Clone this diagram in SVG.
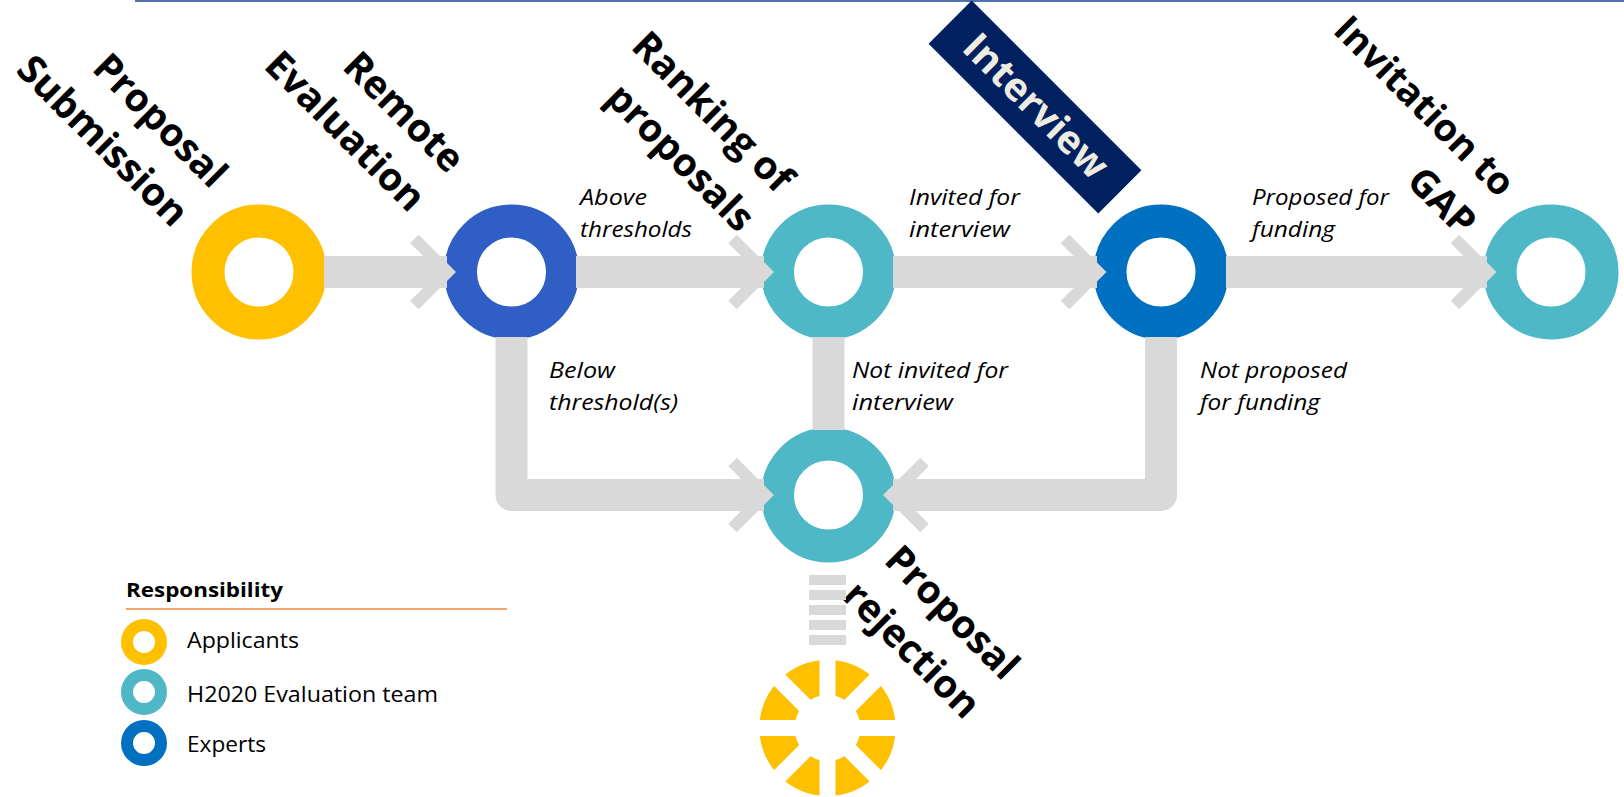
<svg xmlns="http://www.w3.org/2000/svg" width="1624" height="797" viewBox="0 0 1624 797">
<style>
.ring{fill:none;stroke-width:33}
.bar{fill:none;stroke:#D9D9D9;stroke-width:32;stroke-linejoin:round}
.chev{fill:none;stroke:#D9D9D9;stroke-width:12;stroke-linejoin:miter;stroke-miterlimit:4}
.title{font-family:"Open Sans","Noto Sans",sans-serif;font-weight:bold;font-size:39px;fill:#000}
.lbl{font-family:"Open Sans","Noto Sans",sans-serif;font-style:italic;font-size:22px;fill:#000}
.leg{font-family:"Open Sans","Noto Sans",sans-serif;font-size:22px;fill:#000}
.lring{fill:none;stroke-width:12}
</style>
<defs>
<mask id="gaps" maskUnits="userSpaceOnUse" x="740" y="640" width="180" height="180">
<rect x="740" y="640" width="180" height="180" fill="#fff"/>
<g stroke="#000" stroke-width="16">
<line x1="827.5" y1="650" x2="827.5" y2="806"/>
<line x1="749.5" y1="728" x2="905.5" y2="728"/>
<line x1="772.3" y1="672.8" x2="882.7" y2="783.2"/>
<line x1="882.7" y1="672.8" x2="772.3" y2="783.2"/>
</g>
</mask>
</defs>
<rect width="1624" height="797" fill="#fff"/>
<line x1="135" y1="1" x2="1624" y2="1" stroke="#4F74AE" stroke-width="2"/>

<g id="node-submission">
<circle class="ring" cx="259" cy="272" r="51" stroke="#FFC000"/>
<g transform="translate(211,190) rotate(45)"><text class="title" text-anchor="end"><tspan x="0" y="0">Proposal</tspan><tspan x="0" y="55">Submission</tspan></text></g>
</g>
<g id="node-remote-evaluation">
<circle class="ring" cx="511.5" cy="272" r="51" stroke="#2F5EC4"/>
<g transform="translate(448,175) rotate(45)"><text class="title" text-anchor="end"><tspan x="0" y="0">Remote</tspan><tspan x="0" y="55">Evaluation</tspan></text></g>
</g>
<g id="node-ranking">
<circle class="ring" cx="828.5" cy="272" r="51" stroke="#4FB8C6"/>
<g transform="translate(777,195) rotate(45)"><text class="title" text-anchor="end"><tspan x="0" y="0">Ranking of</tspan><tspan x="0" y="55">proposals</tspan></text></g>
</g>
<g id="node-interview">
<circle class="ring" cx="1161" cy="272" r="51" stroke="#0070C0"/>
<g transform="translate(1035,107) rotate(45)">
<rect x="-120" y="-30.5" width="240" height="61" fill="#002060"/>
<text class="title" text-anchor="middle" x="0" y="12" style="fill:#EEECE1">Interview</text>
</g>
</g>
<g id="node-gap">
<circle class="ring" cx="1551" cy="272" r="51" stroke="#4FB8C6"/>
<g transform="translate(1499,199) rotate(45)"><text class="title" text-anchor="end" style="font-size:38px"><tspan x="0" y="0">Invitation to</tspan><tspan x="0" y="55">GAP</tspan></text></g>
</g>
<g id="node-rejection">
<circle class="ring" cx="828.5" cy="495" r="51" stroke="#4FB8C6"/>
<g transform="translate(1003,682) rotate(45)"><text class="title" text-anchor="end"><tspan x="0" y="0">Proposal</tspan><tspan x="0" y="55">rejection</tspan></text></g>
</g>
<g id="node-rejected-end">
<g fill="#D9D9D9">
<rect x="809" y="575" width="37" height="10"/>
<rect x="809" y="590" width="37" height="10"/>
<rect x="809" y="605" width="37" height="10"/>
<rect x="809" y="620" width="37" height="10"/>
<rect x="809" y="635" width="37" height="10"/>
</g>
<circle cx="827.5" cy="728" r="50.5" fill="none" stroke="#FFC000" stroke-width="35" mask="url(#gaps)"/>
</g>

<g id="connectors">
<path class="bar" d="M324 272 H447"/>
<path class="bar" d="M576 272 H764"/>
<path class="bar" d="M893 272 H1097"/>
<path class="bar" d="M1226 272 H1487"/>
<path class="bar" d="M511.5 337 V495 H764"/>
<path class="bar" d="M828.5 337 V430"/>
<path class="bar" d="M1161 337 V495 H893"/>
<path class="chev" d="M414.5 239 L447.5 272 L414.5 305"/>
<path class="chev" d="M732.5 239 L765.5 272 L732.5 305"/>
<path class="chev" d="M1065 239 L1098 272 L1065 305"/>
<path class="chev" d="M1455 239 L1488 272 L1455 305"/>
<path class="chev" d="M732.5 462 L765.5 495 L732.5 528"/>
<path class="chev" d="M924.5 462 L891.5 495 L924.5 528"/>
</g>

<g id="edge-labels">
<text class="lbl" x="580" y="205" textLength="67" lengthAdjust="spacingAndGlyphs">Above</text>
<text class="lbl" x="580" y="237" textLength="112" lengthAdjust="spacingAndGlyphs">thresholds</text>
<text class="lbl" x="909" y="205" textLength="111" lengthAdjust="spacingAndGlyphs">Invited for</text>
<text class="lbl" x="909" y="237" textLength="101" lengthAdjust="spacingAndGlyphs">interview</text>
<text class="lbl" x="1252" y="205" textLength="137" lengthAdjust="spacingAndGlyphs">Proposed for</text>
<text class="lbl" x="1252" y="237" textLength="83" lengthAdjust="spacingAndGlyphs">funding</text>
<text class="lbl" x="549" y="378" textLength="66" lengthAdjust="spacingAndGlyphs">Below</text>
<text class="lbl" x="549" y="410" textLength="129" lengthAdjust="spacingAndGlyphs">threshold(s)</text>
<text class="lbl" x="852" y="378" textLength="156" lengthAdjust="spacingAndGlyphs">Not invited for</text>
<text class="lbl" x="852" y="410" textLength="101" lengthAdjust="spacingAndGlyphs">interview</text>
<text class="lbl" x="1200" y="378" textLength="147" lengthAdjust="spacingAndGlyphs">Not proposed</text>
<text class="lbl" x="1200" y="410" textLength="120" lengthAdjust="spacingAndGlyphs">for funding</text>
</g>

<g id="legend">
<text class="leg" x="126" y="597" font-weight="bold" style="font-size:20px" textLength="157" lengthAdjust="spacingAndGlyphs">Responsibility</text>
<line x1="126" y1="609" x2="507" y2="609" stroke="#F4A46C" stroke-width="2"/>
<circle class="lring" cx="144" cy="642" r="17" stroke="#FFC000"/>
<circle class="lring" cx="144" cy="692" r="17" stroke="#4FB8C6"/>
<circle class="lring" cx="144" cy="743" r="17" stroke="#0070C0"/>
<text class="leg" x="187" y="648" textLength="112" lengthAdjust="spacingAndGlyphs">Applicants</text>
<text class="leg" x="187" y="702" textLength="251" lengthAdjust="spacingAndGlyphs">H2020 Evaluation team</text>
<text class="leg" x="187" y="752" textLength="79" lengthAdjust="spacingAndGlyphs">Experts</text>
</g>
</svg>
